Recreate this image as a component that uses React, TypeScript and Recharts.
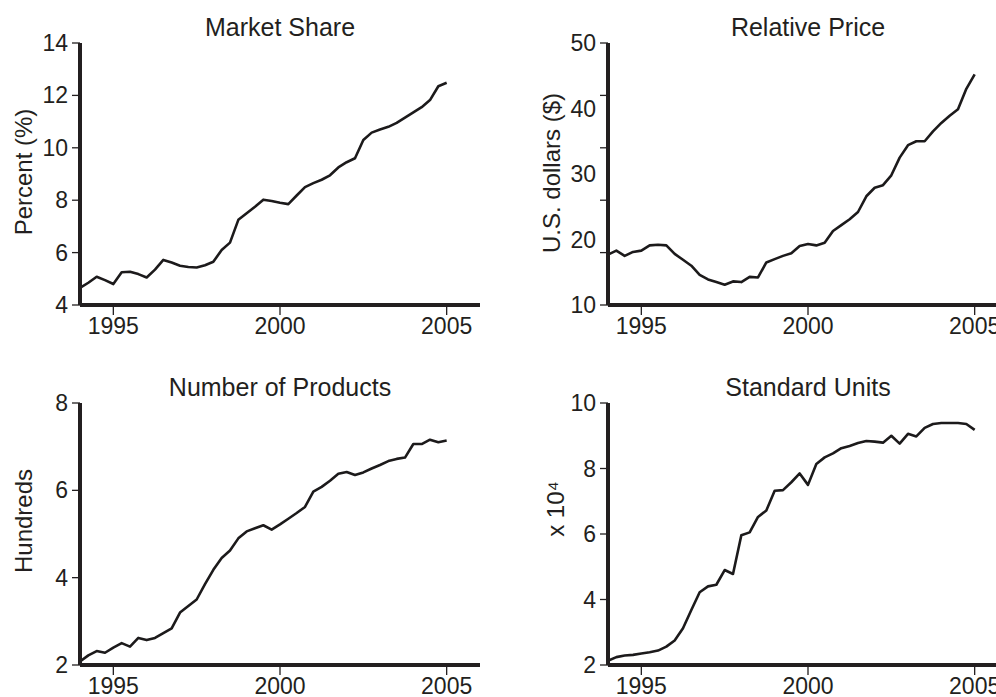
import { LineChart, Line, XAxis, YAxis } from 'recharts';

// quarterly observations, 1994 Q1 .. 2005 Q1
const years = [
  1994, 1994.25, 1994.5, 1994.75, 1995, 1995.25, 1995.5, 1995.75,
  1996, 1996.25, 1996.5, 1996.75, 1997, 1997.25, 1997.5, 1997.75,
  1998, 1998.25, 1998.5, 1998.75, 1999, 1999.25, 1999.5, 1999.75,
  2000, 2000.25, 2000.5, 2000.75, 2001, 2001.25, 2001.5, 2001.75,
  2002, 2002.25, 2002.5, 2002.75, 2003, 2003.25, 2003.5, 2003.75,
  2004, 2004.25, 2004.5, 2004.75, 2005,
];

const marketShare = [
  4.65, 4.85, 5.08, 4.95, 4.8, 5.25, 5.27, 5.18,
  5.05, 5.35, 5.72, 5.62, 5.5, 5.45, 5.43, 5.52,
  5.65, 6.1, 6.38, 7.25, 7.5, 7.75, 8.02, 7.97,
  7.9, 7.85, 8.18, 8.5, 8.65, 8.78, 8.95, 9.25,
  9.45, 9.6, 10.3, 10.58, 10.7, 10.8, 10.95, 11.15,
  11.35, 11.55, 11.82, 12.35, 12.48,
];

const relativePrice = [
  17.7, 18.3, 17.5, 18.1, 18.3, 19.1, 19.2, 19.1,
  17.8, 16.9, 16.0, 14.6, 13.9, 13.5, 13.1, 13.6,
  13.5, 14.3, 14.2, 16.5, 17.0, 17.5, 17.9, 19.0,
  19.3, 19.1, 19.5, 21.3, 22.2, 23.1, 24.2, 26.6,
  27.9, 28.3, 29.8, 32.5, 34.4, 35.0, 35.0, 36.5,
  37.8, 38.9, 39.9, 43.0, 45.2,
];

const productCount = [
  2.08, 2.22, 2.32, 2.28, 2.4, 2.5, 2.42, 2.62,
  2.57, 2.62, 2.73, 2.84, 3.2, 3.35, 3.5, 3.85,
  4.18, 4.45, 4.62, 4.9, 5.06, 5.13, 5.2, 5.1,
  5.22, 5.35, 5.48, 5.62, 5.97, 6.08, 6.22, 6.38,
  6.42, 6.35, 6.41, 6.5, 6.58, 6.67, 6.72, 6.75,
  7.06, 7.06, 7.16, 7.1, 7.14,
];

const standardUnits = [
  2.13, 2.24, 2.29, 2.31, 2.35, 2.39, 2.44, 2.56,
  2.75, 3.12, 3.68, 4.22, 4.4, 4.45, 4.9, 4.78,
  5.96, 6.05, 6.52, 6.72, 7.32, 7.34, 7.58, 7.85,
  7.5, 8.14, 8.34, 8.46, 8.62, 8.69, 8.78, 8.84,
  8.82, 8.79, 9.0, 8.76, 9.06, 8.98, 9.24, 9.36,
  9.39, 9.39, 9.39, 9.36, 9.18,
];

const yearTicks = [1995, 2000, 2005];
const shareTicks = [4, 6, 8, 10, 12, 14];
// the price axis has its tick marks and its labels at different values
const priceTickMarks = [10, 18, 26, 34, 42, 50];
const priceTickLabels = [10, 20, 30, 40, 50];
const productTicks = [2, 4, 6, 8];
const unitTicks = [2, 4, 6, 8, 10];

const FONT = '"Liberation Sans", Arial, Helvetica, sans-serif';
const INK = '#231f20';
const W = 480;
const H = 345;
const TICK_SIZE = 8;
const TICK_MARGIN = 4;
const AXIS_W = 4;

function YTick({ x, y, payload, marks, labels }: any) {
  const v = payload.value;
  const x0 = x + TICK_MARGIN;
  return (
    <g>
      {marks.includes(v) && (
        <line x1={x0} x2={x0 + TICK_SIZE} y1={y} y2={y} stroke={INK} strokeWidth={1.3} />
      )}
      {labels.includes(v) && (
        <text x={x} y={y} dy="0.35em" textAnchor="end" fill={INK} fontSize={23} fontFamily={FONT}>
          {v}
        </text>
      )}
    </g>
  );
}

type PanelProps = {
  title: string;
  values: number[];
  yLabel: string;
  labelDx: number;
  labelDy: number;
  domain: [number, number];
  labels: number[];
  marks: number[];
  left: number;
  top: number;
};

function Panel({ title, values, yLabel, labelDx, labelDy, domain, labels, marks, left, top }: PanelProps) {
  const data = years.map((year, i) => ({ year, value: values[i] }));
  const allTicks = Array.from(new Set([...marks, ...labels])).sort((a, b) => a - b);

  return (
    <div style={{ position: 'absolute', left, top, width: W, height: H }}>
      <div style={{
        position: 'absolute', left: 80, width: 400, top: 15, textAlign: 'center',
        fontFamily: FONT, fontSize: 25, lineHeight: '25px', color: INK,
      }}>{title}</div>
      <LineChart width={W} height={H} data={data} margin={{ top: 43, right: 0, bottom: 0, left: 0 }}>
        <XAxis
          type="number" dataKey="year" domain={[1994, 2006]} ticks={yearTicks} interval={0}
          height={40} tickSize={10} tickMargin={3}
          axisLine={{ stroke: INK, strokeWidth: AXIS_W }}
          tickLine={{ stroke: INK, strokeWidth: 1.3 }}
          tick={{ fill: INK, stroke: 'none', fontSize: 23, fontFamily: FONT }}
        />
        <YAxis
          type="number" domain={domain} ticks={allTicks} interval={0}
          width={80} tickSize={TICK_SIZE} tickMargin={TICK_MARGIN}
          axisLine={{ stroke: INK, strokeWidth: AXIS_W }}
          tickLine={false}
          tick={<YTick marks={marks} labels={labels} />}
          label={{
            value: yLabel, angle: -90, position: 'center', dx: labelDx, dy: labelDy,
            style: { fill: INK, stroke: 'none', fontSize: 24, fontFamily: FONT, textAnchor: 'middle' },
          }}
        />
        <Line
          type="linear" dataKey="value"
          stroke="#1c1a1b" strokeWidth={2.6} strokeLinejoin="round" dot={false}
          isAnimationActive={false}
        />
      </LineChart>
    </div>
  );
}

export default function App() {
  return (
    <div style={{
      position: 'fixed', left: 0, top: 0, width: 996, height: 697,
      overflow: 'hidden', background: '#fff',
    }}>
      <style>{`.recharts-cartesian-axis-line { stroke: ${INK}; stroke-width: ${AXIS_W}px; }`}</style>
      <Panel title="Market Share" values={marketShare} yLabel="Percent (%)" labelDx={-17} labelDy={-2}
        domain={[4, 14]} labels={shareTicks} marks={shareTicks} left={0} top={0} />
      <Panel title="Relative Price" values={relativePrice} yLabel="U.S. dollars ($)" labelDx={-17} labelDy={-1}
        domain={[10, 50]} labels={priceTickLabels} marks={priceTickMarks} left={528} top={0} />
      <Panel title="Number of Products" values={productCount} yLabel="Hundreds" labelDx={-17} labelDy={-13}
        domain={[2, 8]} labels={productTicks} marks={productTicks} left={0} top={360} />
      <Panel title="Standard Units" values={standardUnits} yLabel="x 10⁴" labelDx={-13} labelDy={-25}
        domain={[2, 10]} labels={unitTicks} marks={unitTicks} left={528} top={360} />
    </div>
  );
}
